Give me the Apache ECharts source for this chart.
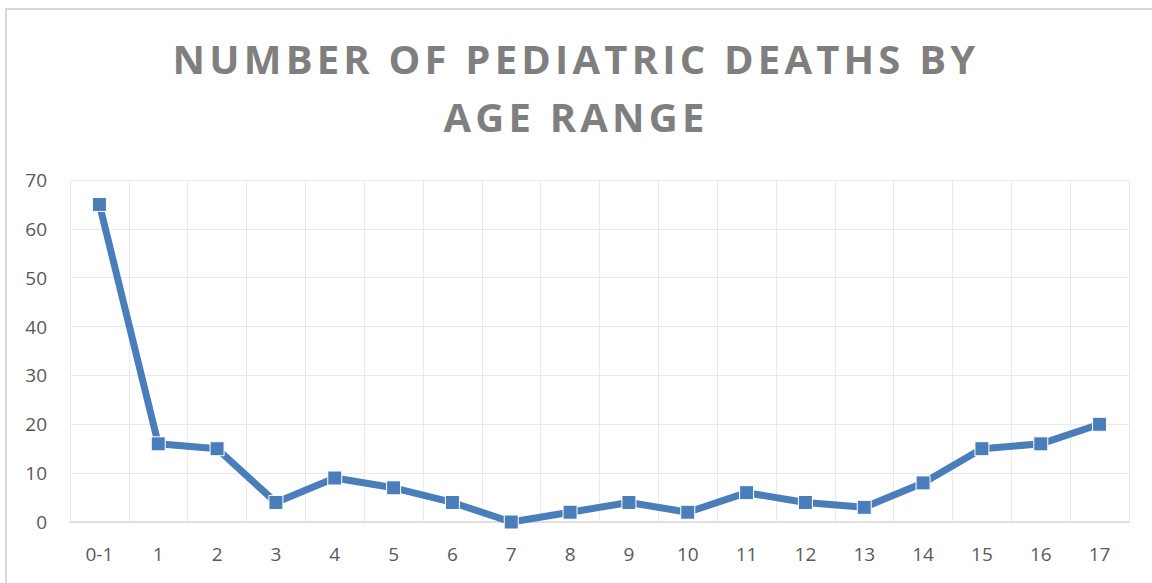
<!DOCTYPE html>
<html>
<head>
<meta charset="utf-8">
<script src="https://cdn.jsdelivr.net/npm/echarts@6/dist/echarts.min.js"></script>
<style>
  html, body { margin: 0; padding: 0; background: #fff; }
  #frame { position: absolute; left: 5px; top: 8px; width: 1200px; height: 620px;
           border: 2px solid #d9d9d9; box-sizing: border-box; }
  #chart { position: absolute; left: 0; top: 0; width: 1152px; height: 583px; }
</style>
</head>
<body>
<div id="frame"></div>
<div id="chart"></div>
<script>
var titleLines = ['NUMBER OF PEDIATRIC DEATHS BY', 'AGE RANGE'];
var ageRanges = ['0-1', '1', '2', '3', '4', '5', '6', '7', '8', '9', '10', '11', '12', '13', '14', '15', '16', '17'];
var deaths = [65, 16, 15, 4, 9, 7, 4, 0, 2, 4, 2, 6, 4, 3, 8, 15, 16, 20];
var yTicks = { min: 0, max: 70, interval: 10 };

var myChart = echarts.init(document.getElementById('chart'), null, { renderer: 'svg' });
var labelFont = '"Open Sans", "Liberation Sans", sans-serif';

myChart.setOption({
  animation: false,
  title: {
    text: titleLines.join('\n'),
    left: 'center',
    top: 24,
    textStyle: {
      fontFamily: labelFont,
      fontWeight: 'bold',
      fontSize: 40,
      lineHeight: 58,
      color: '#7f7f7f'
    }
  },
  grid: { left: 70, right: 23, top: 180, bottom: 61 },
  xAxis: {
    type: 'category',
    data: ageRanges,
    boundaryGap: true,
    axisTick: { show: false },
    axisLine: { lineStyle: { color: '#d9d9d9', width: 1.5 } },
    splitLine: { show: true, interval: 0, lineStyle: { color: '#e9e9e9', width: 1 } },
    axisLabel: { color: '#595959', fontSize: 19, fontFamily: labelFont, margin: 22, interval: 0 }
  },
  yAxis: {
    type: 'value',
    min: yTicks.min,
    max: yTicks.max,
    interval: yTicks.interval,
    axisLine: { show: false },
    axisTick: { show: false },
    splitLine: { lineStyle: { color: '#e9e9e9', width: 1 } },
    axisLabel: { color: '#595959', fontSize: 19, fontFamily: labelFont, margin: 23 }
  },
  series: [{
    type: 'line',
    data: deaths,
    symbol: 'rect',
    symbolSize: 14,
    lineStyle: { color: '#4a7ebb', width: 7 },
    itemStyle: { color: '#4a7ebb', borderColor: '#ffffff', borderWidth: 1 }
  }]
});

// title letter spacing, like the original
var texts = document.querySelectorAll('#chart text');
for (var i = 0; i < texts.length; i++) {
  if (titleLines.indexOf(texts[i].textContent) >= 0) {
    texts[i].style.letterSpacing = '4.2px';
  }
}
</script>
</body>
</html>
